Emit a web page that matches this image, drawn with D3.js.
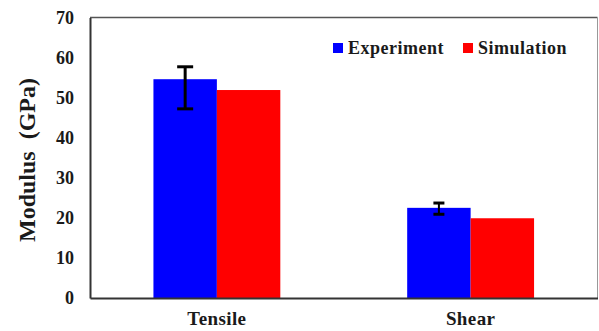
<!DOCTYPE html>
<html>
<head>
<meta charset="utf-8">
<script src="https://cdn.jsdelivr.net/npm/d3@7"></script>
<style>
  body { margin: 0; background: #fff; }
  text { font-family: "Liberation Serif", "Times New Roman", serif; font-weight: bold; fill: #1a1a1a; }
</style>
</head>
<body>
<svg id="chart" width="599" height="331"></svg>
<script>
// data
const categories = ['Tensile', 'Shear']
const series = ['Experiment', 'Simulation']
const experiment = [54.6, 22.5]
const simulation = [51.9, 19.9]
const err_low = [47.2, 20.9]
const err_high = [57.7, 23.7]
const y_ticks = [0, 10, 20, 30, 40, 50, 60, 70]

const svg = d3.select('#chart')

/* plot area */
const pl = 90, pr = 597.5, pt = 17.5, pb = 298
const colors = {'Experiment': '#0000ff', 'Simulation': '#ff0000'}
const cap_w = [16, 11]

const y = d3.scaleLinear().domain([0, 70]).range([pb, pt])
const x = d3.scaleBand().domain(categories).range([pl, pr]).paddingInner(0.5).paddingOuter(0.25)
const x_in = d3.scaleBand().domain(series).range([0, x.bandwidth()])

const rows = categories.map((c, i) => ({cat: c, Experiment: experiment[i], Simulation: simulation[i], lo: err_low[i], hi: err_high[i], cap: cap_w[i]}))

/* bars */
svg.append('g')
    .selectAll('g')
    .data(rows)
    .join('g')
    .attr('transform', d => `translate(${x(d.cat)},0)`)
    .selectAll('rect')
    .data(d => series.map(s => ({s: s, v: d[s]})))
    .join('rect')
    .attr('x', d => x_in(d.s))
    .attr('y', d => y(d.v))
    .attr('width', x_in.bandwidth())
    .attr('height', d => y(0) - y(d.v))
    .attr('fill', d => colors[d.s])

/* error bars on experiment */
const eb = svg.append('g')
    .selectAll('g')
    .data(rows)
    .join('g')
    .attr('transform', d => `translate(${x(d.cat) + x_in('Experiment') + x_in.bandwidth() / 2},0)`)
    .attr('stroke', '#000')
eb.append('line')
    .attr('y1', d => y(d.lo)).attr('y2', d => y(d.hi))
    .attr('stroke-width', (d, i) => i == 0 ? 3 : 2)
eb.selectAll('.cap')
    .data(d => [[d.lo, d.cap], [d.hi, d.cap]])
    .join('line')
    .classed('cap', true)
    .attr('x1', d => -d[1] / 2).attr('x2', d => d[1] / 2)
    .attr('y1', d => y(d[0])).attr('y2', d => y(d[0]))
    .attr('stroke-width', 3)

/* frame */
svg.append('line').attr('x1', pl).attr('x2', pr).attr('y1', pt).attr('y2', pt)
    .attr('stroke', '#555').attr('stroke-width', 1.5)
svg.append('line').attr('x1', pr).attr('x2', pr).attr('y1', pt).attr('y2', pb)
    .attr('stroke', '#999').attr('stroke-width', 1)

/* y axis, no tick marks */
const ya = svg.append('g')
    .attr('transform', `translate(${pl},0)`)
    .call(d3.axisLeft(y).tickValues(y_ticks).tickSize(0).tickPadding(16))
ya.select('.domain').attr('stroke', '#333').attr('stroke-width', 2)
ya.selectAll('text').style('font-size', '18px').attr('font-family', null).attr('fill', '#1a1a1a')

/* x axis */
const xa = svg.append('g')
    .attr('transform', `translate(0,${pb})`)
    .call(d3.axisBottom(x).tickSize(0).tickPadding(14))
xa.select('.domain').attr('stroke', '#333').attr('stroke-width', 2)
xa.selectAll('text').style('font-size', '19px').style('letter-spacing', '0.4px').attr('font-family', null).attr('fill', '#1a1a1a')

/* y title */
svg.append('text')
    .attr('transform', `translate(35,${(77 + 243) / 2}) rotate(-90)`)
    .attr('text-anchor', 'middle')
    .style('font-size', '24px')
    .style('white-space', 'pre')
    .text('Modulus  (GPa)')

/* legend */
const lg = svg.append('g')
    .selectAll('g')
    .data(series)
    .join('g')
    .attr('transform', (d, i) => `translate(${333 + i * 130},43)`)
lg.append('rect')
    .attr('width', 10).attr('height', 10)
    .attr('fill', d => colors[d])
lg.append('text')
    .attr('x', 15).attr('y', 11)
    .style('font-size', '18px')
    .style('letter-spacing', '0.5px')
    .text(d => d)
</script>
</body>
</html>
